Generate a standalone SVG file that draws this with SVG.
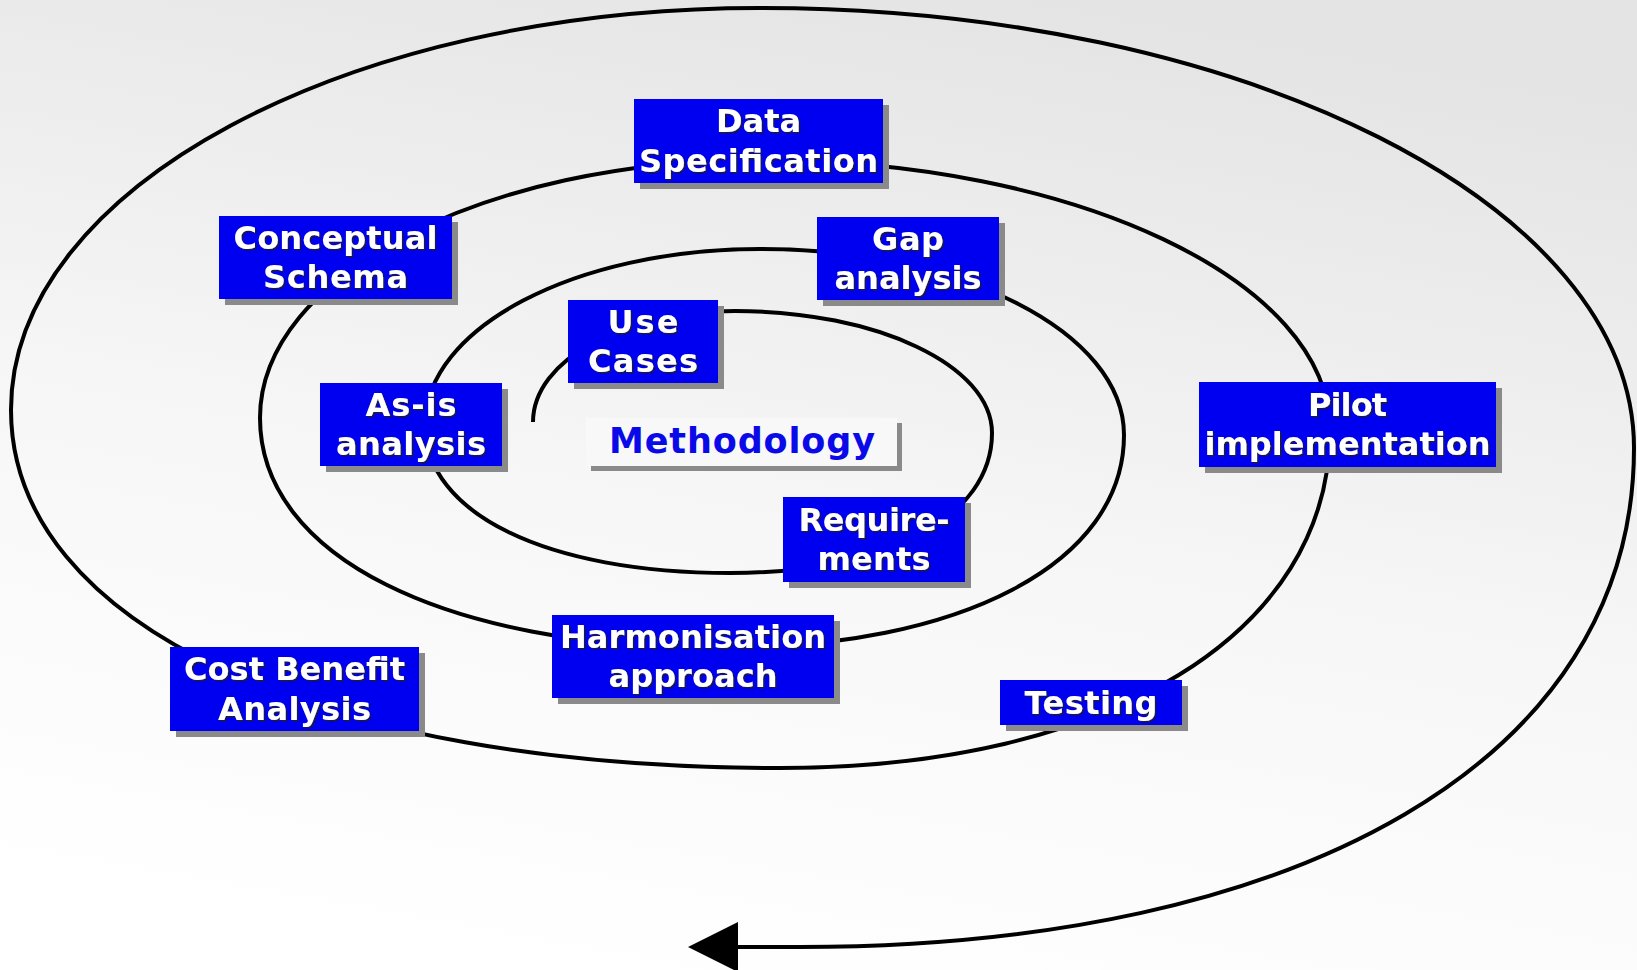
<svg xmlns="http://www.w3.org/2000/svg" width="1637" height="970" viewBox="0 0 1637 970">
  <defs>
    <linearGradient id="bg" x1="0.65" y1="0" x2="0.35" y2="1">
      <stop offset="0" stop-color="#e4e4e4"/>
      <stop offset="0.55" stop-color="#f7f7f7"/>
      <stop offset="1" stop-color="#ffffff"/>
    </linearGradient>
    <filter id="txtShadow" x="-5%" y="-20%" width="110%" height="140%">
      <feDropShadow dx="1.5" dy="1.5" stdDeviation="0.6" flood-color="#1a1a1a" flood-opacity="0.85"/>
    </filter>
    <style>
      .shadow { fill: #8a8a8a; }
      .box { fill: #0000f0; }
      .label { font-family: "DejaVu Sans", "Liberation Sans", sans-serif; font-weight: bold; font-size: 32px; fill: #ffffff; text-anchor: middle; filter: url(#txtShadow); }
      .title-box { fill: #f8f8f8; }
      .title { font-family: "DejaVu Sans", "Liberation Sans", sans-serif; font-weight: bold; font-size: 35px; fill: #0a0ae8; text-anchor: middle; }
      .spiral { fill: none; stroke: #000000; stroke-width: 4; stroke-linejoin: round; }
    </style>
  </defs>

  <rect x="0" y="0" width="1637" height="970" fill="url(#bg)"/>

  <!-- spiral connector, from the centre outwards -->
  <g id="connectors">
    <path class="spiral" d="M533,422
      C533,359.8 623.4,311 735,311
      C876.9,311 992,365.6 992,433
      C992,517 887.2,573 730,573
      C547,573 425,513.8 425,425
      C425,327.8 575,249 760,249
      C961,249 1124,332.3 1124,435
      C1124,562.8 962.4,648 720,648
      C444,648 260,556 260,418
      C260,275.5 483.8,160 760,160
      C1074.8,160 1330,280.9 1330,430
      C1330,632.8 1110,768 780,768
      C318.6,768 11,624.8 11,410
      C11,188 346.3,8 760,8
      C1242.7,8 1634,205 1634,448
      C1634,760 1300,947 800,947
      L737,947"/>
    <polygon points="688,947 738,922 738,972" fill="#000000"/>
  </g>

  <g id="methodology">
    <rect class="shadow" x="591" y="423" width="311" height="48"/>
    <rect class="title-box" x="586" y="418" width="311" height="48"/>
    <text class="title" x="742" y="453" textLength="266" lengthAdjust="spacing">Methodology</text>
  </g>

  <g id="use-cases">
    <rect class="shadow" x="574" y="306" width="150" height="83"/>
    <rect class="box" x="568" y="300" width="150" height="83"/>
    <text class="label" x="643" y="332.5" textLength="71" lengthAdjust="spacing">Use</text>
    <text class="label" x="643" y="372" textLength="110" lengthAdjust="spacing">Cases</text>
  </g>

  <g id="requirements">
    <rect class="shadow" x="789" y="503" width="182" height="85"/>
    <rect class="box" x="783" y="497" width="182" height="85"/>
    <text class="label" x="874" y="530.5" textLength="151" lengthAdjust="spacing">Require-</text>
    <text class="label" x="874" y="570" textLength="113" lengthAdjust="spacing">ments</text>
  </g>

  <g id="as-is-analysis">
    <rect class="shadow" x="326" y="389" width="182" height="83"/>
    <rect class="box" x="320" y="383" width="182" height="83"/>
    <text class="label" x="411" y="415.5" textLength="91" lengthAdjust="spacing">As-is</text>
    <text class="label" x="411" y="455" textLength="150" lengthAdjust="spacing">analysis</text>
  </g>

  <g id="gap-analysis">
    <rect class="shadow" x="823" y="223" width="182" height="83"/>
    <rect class="box" x="817" y="217" width="182" height="83"/>
    <text class="label" x="908" y="249.5" textLength="72" lengthAdjust="spacing">Gap</text>
    <text class="label" x="908" y="289" textLength="147" lengthAdjust="spacing">analysis</text>
  </g>

  <g id="harmonisation-approach">
    <rect class="shadow" x="558" y="621" width="282" height="83"/>
    <rect class="box" x="552" y="615" width="282" height="83"/>
    <text class="label" x="693" y="647.5" textLength="266" lengthAdjust="spacing">Harmonisation</text>
    <text class="label" x="693" y="687" textLength="169" lengthAdjust="spacing">approach</text>
  </g>

  <g id="conceptual-schema">
    <rect class="shadow" x="225" y="222" width="233" height="83"/>
    <rect class="box" x="219" y="216" width="233" height="83"/>
    <text class="label" x="335.5" y="248.5" textLength="204" lengthAdjust="spacing">Conceptual</text>
    <text class="label" x="335.5" y="288" textLength="145" lengthAdjust="spacing">Schema</text>
  </g>

  <g id="data-specification">
    <rect class="shadow" x="640" y="105" width="249" height="84"/>
    <rect class="box" x="634" y="99" width="249" height="84"/>
    <text class="label" x="758.5" y="132" textLength="85" lengthAdjust="spacing">Data</text>
    <text class="label" x="758.5" y="171.5" textLength="239" lengthAdjust="spacing">Specification</text>
  </g>

  <g id="pilot-implementation">
    <rect class="shadow" x="1205" y="388" width="297" height="85"/>
    <rect class="box" x="1199" y="382" width="297" height="85"/>
    <text class="label" x="1347.5" y="415.5" textLength="79" lengthAdjust="spacing">Pilot</text>
    <text class="label" x="1347.5" y="455" textLength="286" lengthAdjust="spacing">implementation</text>
  </g>

  <g id="testing">
    <rect class="shadow" x="1006" y="686" width="182" height="45"/>
    <rect class="box" x="1000" y="680" width="182" height="45"/>
    <text class="label" x="1091" y="714" textLength="133" lengthAdjust="spacing">Testing</text>
  </g>

  <g id="cost-benefit-analysis">
    <rect class="shadow" x="176" y="653" width="249" height="84"/>
    <rect class="box" x="170" y="647" width="249" height="84"/>
    <text class="label" x="294.5" y="680" textLength="221" lengthAdjust="spacing">Cost Benefit</text>
    <text class="label" x="294.5" y="719.5" textLength="153" lengthAdjust="spacing">Analysis</text>
  </g>
</svg>
